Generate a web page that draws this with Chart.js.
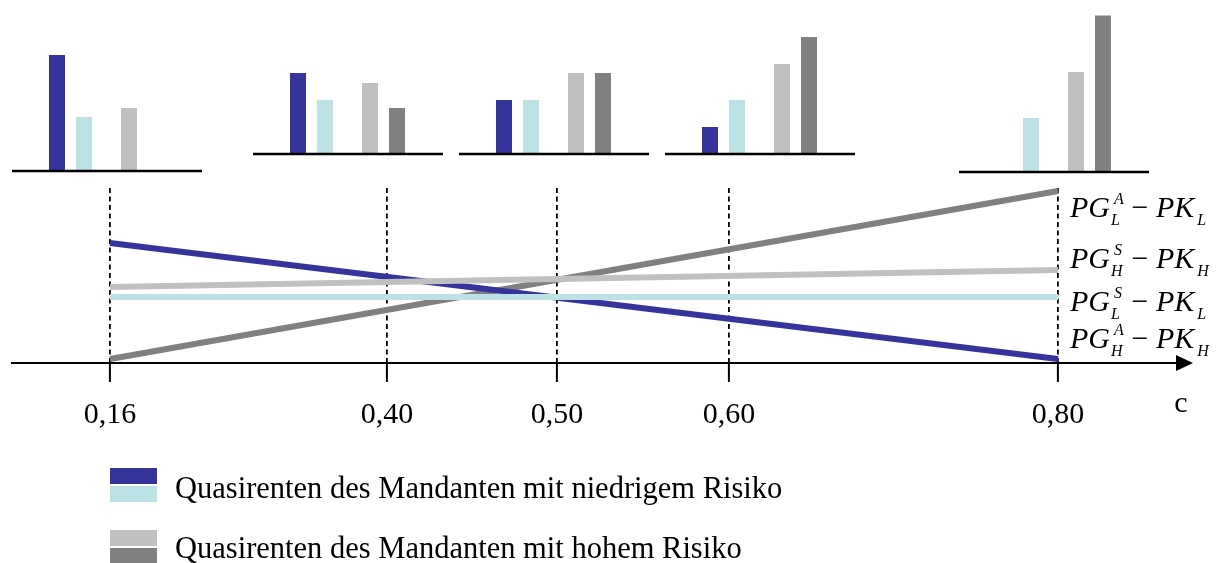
<!DOCTYPE html>
<html lang="de">
<head>
<meta charset="utf-8">
<script src="https://cdn.jsdelivr.net/npm/chart.js@4"></script>
<style>
  html, body { margin: 0; padding: 0; background: #fff; }
  #page { position: relative; width: 1217px; height: 563px; overflow: hidden; font-family: "Liberation Serif", "Times New Roman", serif; color: #000; }
  #mainWrap { position: absolute; left: 0; top: 0; width: 1217px; height: 563px; }
  .bars { position: absolute; width: 190px; height: 165px; }
  .lab { position: absolute; left: 1070px; font-size: 30px; line-height: 30px; height: 30px; white-space: nowrap; }
  .lab i { font-style: italic; }
  .ss { display: inline-block; position: relative; width: 14px; height: 0; vertical-align: baseline; }
  .ss .sup, .ss .sub { position: absolute; font-size: 16px; line-height: 1; font-style: italic; }
  .ss .sup { top: -26px; left: 4px; }
  .ss .sub { top: -5px; left: 1px; }
  .lab .sb { font-size: 16px; line-height: 1; font-style: italic; position: relative; top: 8px; margin-left: 3px; }
  .leg { position: absolute; left: 110px; }
  .sw { position: absolute; left: 0; width: 47px; height: 16px; }
  .legtxt { position: absolute; left: 65px; font-size: 30.5px; line-height: 30px; white-space: nowrap; }
</style>
</head>
<body>
<div id="page">
  <div id="mainWrap"><canvas id="mainChart"></canvas></div>
  <div class="bars" style="left:12px; top:9px;"><canvas id="bars0"></canvas></div>
  <div class="bars" style="left:253px; top:-8px;"><canvas id="bars1"></canvas></div>
  <div class="bars" style="left:459px; top:-8px;"><canvas id="bars2"></canvas></div>
  <div class="bars" style="left:665px; top:-8px;"><canvas id="bars3"></canvas></div>
  <div class="bars" style="left:959px; top:10px;"><canvas id="bars4"></canvas></div>

  <div class="lab" style="top:192px;"><i>PG</i><span class="ss"><span class="sup">A</span><span class="sub">L</span></span> &minus; <i>PK</i><span class="sb">L</span></div>
  <div class="lab" style="top:243px;"><i>PG</i><span class="ss"><span class="sup">S</span><span class="sub">H</span></span> &minus; <i>PK</i><span class="sb">H</span></div>
  <div class="lab" style="top:286px;"><i>PG</i><span class="ss"><span class="sup">S</span><span class="sub">L</span></span> &minus; <i>PK</i><span class="sb">L</span></div>
  <div class="lab" style="top:323px;"><i>PG</i><span class="ss"><span class="sup">A</span><span class="sub">H</span></span> &minus; <i>PK</i><span class="sb">H</span></div>

  <div class="leg" style="top:468px;">
    <div class="sw" style="top:0; background:#35349a;"></div>
    <div class="sw" style="top:18px; background:#bce2e5;"></div>
    <div class="legtxt" style="top:5px;">Quasirenten des Mandanten mit niedrigem Risiko</div>
  </div>
  <div class="leg" style="top:530px;">
    <div class="sw" style="top:0; background:#c0c0c0;"></div>
    <div class="sw" style="top:18px; background:#808080;"></div>
    <div class="legtxt" style="top:3px;">Quasirenten des Mandanten mit hohem Risiko</div>
  </div>
</div>

<script>
// c values marked on the axis
const cTicks = [0.16, 0.40, 0.50, 0.60, 0.80];
const cTickLabels = ['0,16', '0,40', '0,50', '0,60', '0,80'];

// lines run from c = 0.16 to c = 0.80
const cEnds = [0.16, 0.80];
const lineHighA = [6.86, 0.23];  // PG_H^A - PK_H
const lineHighS = [4.34, 5.31];  // PG_H^S - PK_H
const lineLowS = [3.77, 3.77];   // PG_L^S - PK_L
const lineLowA = [0.23, 9.83];   // PG_L^A - PK_L

// small bar charts, one per marked c value
const barLowDark = [4.3, 3, 2, 1, 0];
const barLowLight = [2, 2, 2, 2, 2];
const barHighLight = [2.33, 2.63, 3, 3.33, 3.7];
const barHighDark = [0, 1.7, 3, 4.33, 5.8];

const colDarkBlue = '#35349a';
const colCyan = '#bce2e5';
const colLightGray = '#c0c0c0';
const colDarkGray = '#808080';
const serif = '"Liberation Serif", "Times New Roman", serif';

// x axis in the picture is not to scale, so map c piecewise onto the axis
class PiecewiseScale extends Chart.LinearScale {
    getPixelForValue(value) {
        if (value === null || value === undefined) return NaN;
        const k = this.options.knots;
        let i = 1;
        while (i < k.length - 1 && value > k[i][0]) i++;
        const a = k[i - 1], b = k[i];
        return this.getPixelForDecimal(a[1] + (value - a[0]) / (b[0] - a[0]) * (b[1] - a[1]));
    }
    getValueForPixel(pixel) {
        const f = this.getDecimalForPixel(pixel);
        const k = this.options.knots;
        let i = 1;
        while (i < k.length - 1 && f > k[i][1]) i++;
        const a = k[i - 1], b = k[i];
        return a[0] + (f - a[1]) / (b[1] - a[1]) * (b[0] - a[0]);
    }
}
PiecewiseScale.id = 'piecewise';
Chart.register(PiecewiseScale);

function tickText(value) {
    const i = cTicks.findIndex(v => Math.abs(v - value) < 1e-9);
    return i >= 0 ? cTickLabels[i] : value.toFixed(2).replace('.', ',');
}

const arrowPlugin = {
    id: 'arrowAndLabel',
    afterDraw(chart) {
        const ctx = chart.ctx;
        const area = chart.chartArea;
        const y = chart.scales.y.getPixelForValue(0);
        ctx.save();
        ctx.fillStyle = '#000';
        ctx.beginPath();
        ctx.moveTo(area.right - 2, y - 8);
        ctx.lineTo(area.right + 15, y);
        ctx.lineTo(area.right - 2, y + 8);
        ctx.closePath();
        ctx.fill();
        ctx.font = '30px ' + serif;
        ctx.textAlign = 'center';
        ctx.textBaseline = 'alphabetic';
        ctx.fillText('c', area.right + 3, 412);
        ctx.restore();
    }
};

function pts(ys) {
    return cEnds.map((x, i) => ({ x: x, y: ys[i] }));
}

function lineSet(label, ys, color) {
    return {
        label: label,
        data: pts(ys),
        borderColor: color,
        backgroundColor: color,
        borderWidth: 6,
        borderCapStyle: 'butt',
        pointRadius: 0,
        tension: 0,
        fill: false
    };
}

new Chart(document.getElementById('mainChart'), {
    type: 'line',
    data: {
        datasets: [
            lineSet('PG_H^S - PK_H', lineHighS, colLightGray),
            lineSet('PG_L^S - PK_L', lineLowS, colCyan),
            lineSet('PG_H^A - PK_H', lineHighA, colDarkBlue),
            lineSet('PG_L^A - PK_L', lineLowA, colDarkGray)
        ]
    },
    options: {
        locale: 'de-DE',
        responsive: true,
        maintainAspectRatio: false,
        animation: false,
        events: [],
        layout: {
            padding: { left: 12, right: 39, top: 188, bottom: 110 }
        },
        scales: {
            x: {
                type: 'piecewise',
                min: 0.075,
                max: 0.873,
                knots: [[0.075, 0], [0.16, 0.0841], [0.40, 0.3216], [0.50, 0.4674], [0.60, 0.6149], [0.80, 0.8971], [0.873, 1]],
                afterBuildTicks: function(scale) {
                    scale.ticks = cTicks.map(v => ({ value: v }));
                },
                afterFit: function(scale) {
                    // tall enough that the comma below the baseline is not clipped
                    scale.height = 90;
                },
                border: {
                    display: true,
                    color: '#000',
                    width: 2,
                    dash: [5, 3.5]
                },
                grid: {
                    color: '#000',
                    lineWidth: 1.8,
                    drawTicks: true,
                    tickLength: 19,
                    tickColor: '#000',
                    tickWidth: 2,
                    tickBorderDash: []
                },
                ticks: {
                    autoSkip: false,
                    maxRotation: 0,
                    minRotation: 0,
                    padding: 15,
                    color: '#000',
                    font: { family: serif, size: 30 },
                    callback: function(value) {
                        return tickText(value);
                    }
                }
            },
            y: {
                display: false,
                min: 0,
                max: 10
            }
        },
        plugins: {
            legend: { display: false },
            tooltip: { enabled: false }
        }
    },
    plugins: [arrowPlugin]
});

const baselinePlugin = {
    id: 'baseline',
    afterDatasetsDraw(chart) {
        const ctx = chart.ctx;
        const y = chart.chartArea.bottom;
        ctx.save();
        ctx.strokeStyle = '#000';
        ctx.lineWidth = 2.5;
        ctx.beginPath();
        ctx.moveTo(0, y);
        ctx.lineTo(chart.width, y);
        ctx.stroke();
        ctx.restore();
    }
};

for (let i = 0; i < cTicks.length; i++) {
    new Chart(document.getElementById('bars' + i), {
        type: 'bar',
        data: {
            labels: ['niedrig', 'hoch'],
            datasets: [
                {
                    data: [barLowDark[i], barHighLight[i]],
                    backgroundColor: [colDarkBlue, colLightGray],
                    categoryPercentage: 0.75,
                    barPercentage: 0.593
                },
                {
                    data: [barLowLight[i], barHighDark[i]],
                    backgroundColor: [colCyan, colDarkGray],
                    categoryPercentage: 0.75,
                    barPercentage: 0.593
                }
            ]
        },
        options: {
            responsive: true,
            maintainAspectRatio: false,
            animation: false,
            events: [],
            layout: {
                padding: { left: 22.5, right: 23.5, top: 0, bottom: 3 }
            },
            scales: {
                x: { display: false, offset: true },
                y: { display: false, min: 0, max: 6 }
            },
            plugins: {
                legend: { display: false },
                tooltip: { enabled: false }
            }
        },
        plugins: [baselinePlugin]
    });
}
</script>
</body>
</html>
